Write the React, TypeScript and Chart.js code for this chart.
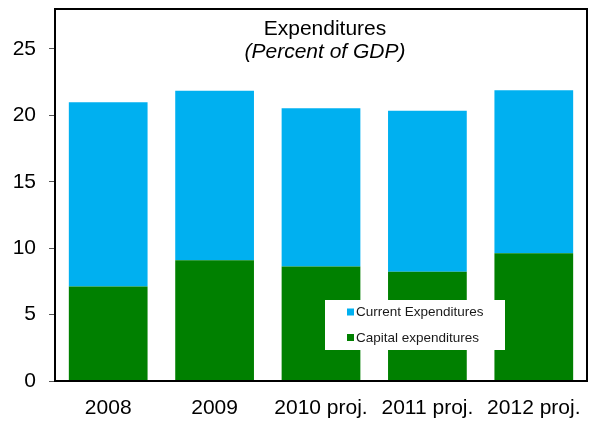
import React, { useEffect, useRef } from "react";
import { Chart, registerables } from "chart.js";

Chart.register(...registerables);

const categories = ["2008", "2009", "2010 proj.", "2011 proj.", "2012 proj."];
const capitalExp = [7.12, 9.08, 8.61, 8.23, 9.61];
const currentExp = [13.86, 12.76, 11.92, 12.12, 12.27];
const seriesNames = ["Current Expenditures", "Capital expenditures"];
const titleLines = ["Expenditures", "(Percent of GDP)"];
const yTicks = [0, 5, 10, 15, 20, 25];

const FONT = "'Liberation Sans', Arial, sans-serif";
const BLUE = "#00B0F0";
const GREEN = "#008000";

const decorPlugin = {
  id: "decor",
  afterDatasetsDraw(chart: any) {
    const { ctx, chartArea } = chart;
    const { left, right, top, bottom } = chartArea;
    ctx.save();
    // frame
    ctx.strokeStyle = "#000";
    ctx.lineWidth = 2;
    ctx.strokeRect(left, top, right - left, bottom - top);
    // title
    const cx = (left + right) / 2 + 4;
    ctx.fillStyle = "#000";
    ctx.textAlign = "center";
    ctx.textBaseline = "alphabetic";
    ctx.font = `21px ${FONT}`;
    ctx.fillText(titleLines[0], cx, top + 26);
    ctx.font = `italic 21px ${FONT}`;
    ctx.fillText(titleLines[1], cx, top + 49);
    // legend
    const lx = 325, ly = 300, lw = 180, lh = 50;
    ctx.fillStyle = "#fff";
    ctx.fillRect(lx, ly, lw, lh);
    const items = [
      { label: chart.data.datasets[1].label, color: chart.data.datasets[1].backgroundColor },
      { label: chart.data.datasets[0].label, color: chart.data.datasets[0].backgroundColor },
    ];
    ctx.font = `13.5px ${FONT}`;
    ctx.textAlign = "left";
    ctx.textBaseline = "middle";
    items.forEach((it, i) => {
      const y = ly + 12 + i * 25.5;
      ctx.fillStyle = it.color;
      ctx.fillRect(lx + 22, y - 3.5, 7, 7);
      ctx.fillStyle = "#1a1a1a";
      ctx.fillText(it.label, lx + 31, y + 0.5);
    });
    ctx.restore();
  },
};

export default function App() {
  const ref = useRef<HTMLCanvasElement>(null);
  useEffect(() => {
    document.body.style.margin = "0";
    const canvas = ref.current!;
    const chart = new Chart(canvas, {
      type: "bar",
      data: {
        labels: categories,
        datasets: [
          {
            label: seriesNames[1],
            data: capitalExp,
            backgroundColor: GREEN,
            borderWidth: 0,
            categoryPercentage: 1,
            barPercentage: 0.74,
          },
          {
            label: seriesNames[0],
            data: currentExp,
            backgroundColor: BLUE,
            borderWidth: 0,
            categoryPercentage: 1,
            barPercentage: 0.74,
          },
        ],
      },
      options: {
        animation: false,
        responsive: false,
        layout: { padding: { top: 9, right: 8, left: 0, bottom: 0 } },
        plugins: {
          legend: { display: false },
          tooltip: { enabled: false },
          title: { display: false },
        },
        scales: {
          x: {
            stacked: true,
            grid: { display: false, drawTicks: false },
            border: { display: false },
            ticks: {
              color: "#000",
              font: { family: FONT, size: 21 },
              padding: 15,
              maxRotation: 0,
              autoSkip: false,
            },
            afterFit(scale: any) {
              scale.height = 41;
              scale.paddingLeft = 0;
              scale.paddingRight = 0;
            },
          },
          y: {
            stacked: true,
            min: 0,
            max: 28,
            afterBuildTicks(scale: any) {
              scale.ticks = yTicks.map((v) => ({ value: v }));
            },
            grid: {
              drawOnChartArea: false,
              drawTicks: true,
              tickLength: 6,
              color: "#555",
              lineWidth: 1,
            },
            border: { display: false },
            ticks: {
              color: "#000",
              font: { family: FONT, size: 21 },
              padding: 13,
            },
            afterFit(scale: any) {
              scale.width = 55;
              scale.paddingTop = 0;
              scale.paddingBottom = 0;
            },
          },
        },
      },
      plugins: [decorPlugin],
    });
    return () => chart.destroy();
  }, []);
  return <canvas ref={ref} width={595} height={422} style={{ display: "block" }} />;
}
